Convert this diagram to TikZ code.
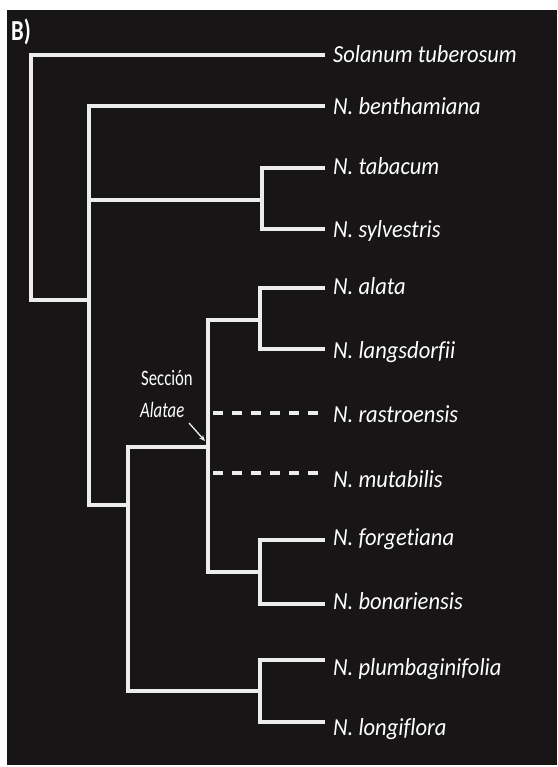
\documentclass[tikz,border=0pt]{standalone}
\usepackage{fontspec}
\setmainfont{Carlito}
\newfontfamily\spfont[FakeStretch=0.92,Ligatures=NoCommon]{Carlito}
\newfontfamily\secfont[FakeStretch=0.76,Ligatures=NoCommon]{Carlito}
\newfontfamily\labfont[FakeStretch=0.78]{Carlito}
\usetikzlibrary{arrows.meta}
\definecolor{bgdark}{RGB}{24,21,22}
\definecolor{lnwhite}{RGB}{236,236,236}
\tikzset{
  branch/.style={draw=lnwhite, line width=3.4pt, line join=miter},
  dashbranch/.style={draw=lnwhite, line width=3.4pt, dash pattern=on 10pt off 9pt},
  leaf/.style={anchor=base west, inner sep=0pt, text=white, font=\spfont\itshape\fontsize{24.5}{28}\selectfont},
  seclabel/.style={anchor=base west, inner sep=0pt, text=white, font=\secfont\fontsize{22}{26}\selectfont},
  paneltag/.style={anchor=base west, inner sep=0pt, text=white, font=\labfont\bfseries\fontsize{29}{34}\selectfont},
  pointer/.style={draw=lnwhite, line width=1.3pt, -{Stealth[length=6pt,width=5pt]}}
}
\begin{document}
\begin{tikzpicture}[x=1pt,y=-1pt]
\useasboundingbox (0,0) rectangle (557,767);
\fill[white] (0,0) rectangle (557,767);
\fill[bgdark] (7,10) rectangle (557,765);
\node[paneltag] (panel) at (11,41) {B)};
% leaf labels
\node[leaf] (sol) at (333,63) {Solanum tuberosum};
\node[leaf] (ben) at (333,115) {N. benthamiana};
\node[leaf] (tab) at (333,175) {N. tabacum};
\node[leaf] (syl) at (333,237) {N. sylvestris};
\node[leaf] (ala) at (333,294) {N. alata};
\node[leaf] (lan) at (333,358) {N. langsdorfii};
\node[leaf] (ras) at (333,422) {N. rastroensis};
\node[leaf] (mut) at (333,487) {N. mutabilis};
\node[leaf] (for) at (333,545) {N. forgetiana};
\node[leaf] (bon) at (333,609) {N. bonariensis};
\node[leaf] (plu) at (333,675) {N. plumbaginifolia};
\node[leaf] (lon) at (333,735) {N. longiflora};
% tips of branches
\coordinate (tsol) at (325,55);
\coordinate (tben) at (325,106);
\coordinate (ttab) at (325,168);
\coordinate (tsyl) at (325,229);
\coordinate (tala) at (325,288);
\coordinate (tlan) at (325,349);
\coordinate (tras) at (318,413);
\coordinate (tmut) at (318,473);
\coordinate (tfor) at (325,540);
\coordinate (tbon) at (325,604);
\coordinate (tplu) at (325,660);
\coordinate (tlon) at (325,722);
% internal nodes (x of vertical bar, y of stem)
\coordinate (r)  at (31,300);
\coordinate (n2) at (89,300);
\coordinate (n3) at (262,200);
\coordinate (n4) at (128,505);
\coordinate (n5) at (208,447);
\coordinate (n6) at (260,320);
\coordinate (n7) at (260,572);
\coordinate (n8) at (260,691);
% tree
\draw[branch] (tsol) -| (r) -- (n2);
\draw[branch] (tben) -| (n2) |- (n4);
\draw[branch] (n3) -- (n2 |- n3);
\draw[branch] (ttab) -| (n3) |- (tsyl);
\draw[branch] (n5) -| (n4) |- (n8);
\draw[branch] (n6) -| (n5) |- (n7);
\draw[branch] (tala) -| (n6) |- (tlan);
\draw[branch] (tfor) -| (n7) |- (tbon);
\draw[branch] (tplu) -| (n8) |- (tlon);
\draw[dashbranch] (tras) -- (n5 |- tras);
\draw[dashbranch] (tmut) -- (n5 |- tmut);
% section label
\node[seclabel] (sec) at (141,385) {Sección};
\node[seclabel, font=\secfont\itshape\fontsize{22}{26}\selectfont] (alt) at (140,417) {Alatae};
\coordinate (arrs) at (189,423);
\coordinate (arre) at (205,441);
\draw[pointer] (arrs) -- (arre);
\end{tikzpicture}
\end{document}
